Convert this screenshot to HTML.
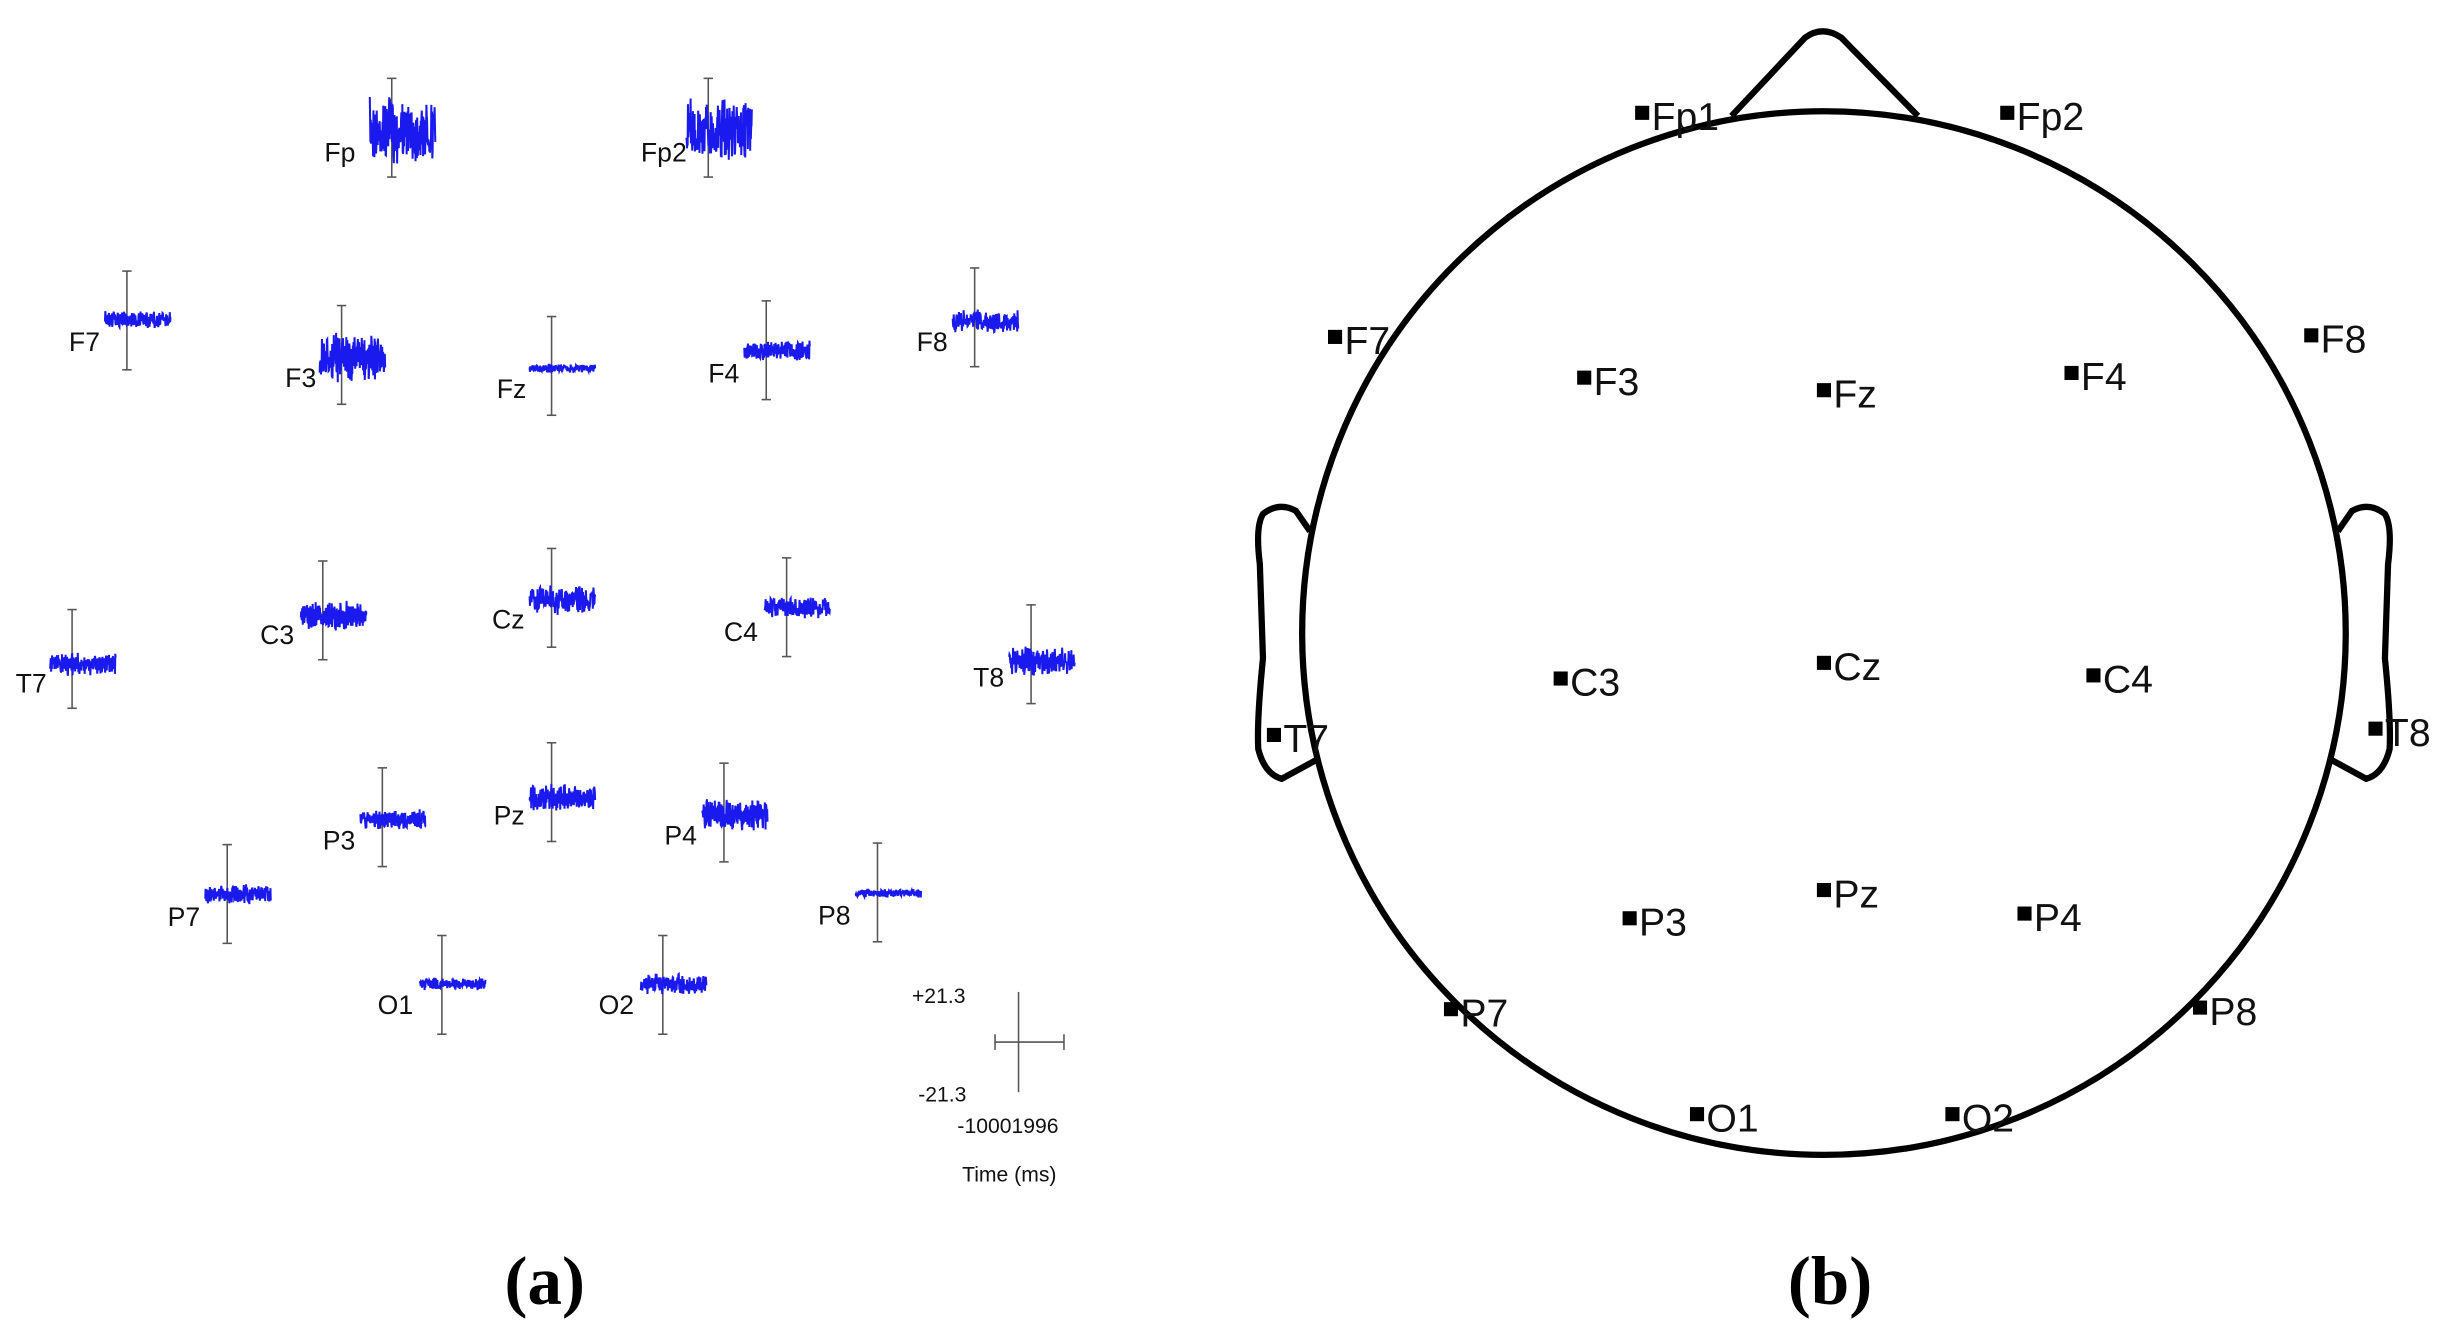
<!DOCTYPE html>
<html><head><meta charset="utf-8"><style>
html,body{margin:0;padding:0;background:#fff;width:2457px;height:1342px;overflow:hidden}
svg{display:block}
.l{font-family:"Liberation Sans",sans-serif;font-size:17px;fill:#111}
.s{font-family:"Liberation Sans",sans-serif;font-size:13.5px;fill:#111}
.h{font-family:"Liberation Sans",sans-serif;font-size:25px;fill:#111}
.cap{font-family:"Liberation Serif",serif;font-size:44px;font-weight:bold;fill:#000}
</style></head><body>
<svg id="s" width="2457" height="1342" viewBox="0 0 1568 856.4" preserveAspectRatio="none" xmlns="http://www.w3.org/2000/svg">
<g id="a"></g>
<g id="lab">
<text class="l" x="207" y="103">Fp</text>
<text class="l" x="409" y="103">Fp2</text>
<text class="l" x="44" y="224">F7</text>
<text class="l" x="182" y="247">F3</text>
<text class="l" x="317" y="254">Fz</text>
<text class="l" x="452" y="244">F4</text>
<text class="l" x="585" y="224">F8</text>
<text class="l" x="10" y="442">T7</text>
<text class="l" x="166" y="411">C3</text>
<text class="l" x="314" y="401">Cz</text>
<text class="l" x="462" y="409">C4</text>
<text class="l" x="621" y="438">T8</text>
<text class="l" x="206" y="542">P3</text>
<text class="l" x="315" y="526">Pz</text>
<text class="l" x="424" y="539">P4</text>
<text class="l" x="107" y="591">P7</text>
<text class="l" x="522" y="590">P8</text>
<text class="l" x="241" y="647">O1</text>
<text class="l" x="382" y="647">O2</text>
<text class="s" x="582" y="640">+21.3</text>
<text class="s" x="586" y="703">-21.3</text>
<text class="s" x="611" y="723">-10001996</text>
<text class="s" x="614" y="754">Time (ms)</text>
</g>
<g stroke="#555" stroke-width="1" fill="none">
<line x1="650" y1="633" x2="650" y2="697"/><line x1="635" y1="665" x2="679" y2="665"/>
<line x1="635" y1="660" x2="635" y2="670"/><line x1="679" y1="660" x2="679" y2="670"/>
</g>
<text class="cap" x="322" y="832">(a)</text>
<text class="cap" x="1141" y="832">(b)</text>
<g fill="none" stroke="#000" stroke-width="4">
<circle cx="1164" cy="404" r="333"/>
<path d="M1105,74 L1152,24 Q1163,16 1175,24 L1224,74"/>
<path d="M836,339 L827,326 Q816,320 806,328 Q801,336 804,360 L806,420 Q802,460 803,478 Q807,494 818,497 L840,485"/>
<path d="M1492,339 L1501,326 Q1512,320 1522,328 Q1527,336 1524,360 L1522,420 Q1526,460 1525,478 Q1521,494 1510,497 L1488,485"/>
</g>
<g id="b"></g>
</svg>
<script>
var a=document.getElementById('a'),b=document.getElementById('b'),NS='http://www.w3.org/2000/svg';
function el(p,t,o){var e=document.createElementNS(NS,t);for(var k in o)e.setAttribute(k,o[k]);p.appendChild(e);return e;}
var seed=7;function r(){seed=(seed*16807)%2147483647;return seed/2147483647;}
var T=[[250,50,83,22],[452,50,83,22],[81,173,204,6],[218,195,228,16],[352,202,235,3],[489,192,224,7],[622,171,205,8],[46,389,424,8],[206,358,393,10],[352,350,383,10],[502,356,388,7],[658,386,422,10],[244,490,523,7],[352,474,509,10],[462,487,520,11],[145,539,571,7],[560,538,570,3],[282,597,628,4],[423,597,628,7]];
T.forEach(function(t){var x=t[0];
el(a,'line',{x1:x,y1:t[1],x2:x,y2:t[1]+63,stroke:'#555','stroke-width':1});
el(a,'line',{x1:x-3,y1:t[1],x2:x+3,y2:t[1],stroke:'#555','stroke-width':1});
el(a,'line',{x1:x-3,y1:t[1]+63,x2:x+3,y2:t[1]+63,stroke:'#555','stroke-width':1});
var d='',n=200;for(var i=0;i<n;i++){var xx=x-14+42*i/n;var yy=t[2]+(r()-0.5)*2*t[3]*(0.5+0.5*r());d+=(i?'L':'M')+xx.toFixed(2)+','+yy.toFixed(2);}
el(a,'path',{d:d,fill:'none',stroke:'#1a1aee','stroke-width':1.3});});
var E=[['Fp1',1048,72],['Fp2',1281,72],['F7',852,215],['F8',1475,214],['F3',1011,241],['Fz',1164,249],['F4',1322,238],['T7',813,469],['T8',1516,465],['C3',996,433],['Cz',1164,423],['C4',1336,431],['P3',1040,586],['Pz',1164,568],['P4',1292,583],['P7',926,644],['P8',1404,643],['O1',1083,711],['O2',1246,711]];
E.forEach(function(e){el(b,'rect',{x:e[1]-4.5,y:e[2]-4.5,width:9,height:9,fill:'#000'});
var t=el(b,'text',{x:e[1]+6,y:e[2]+11,'class':'h'});t.textContent=e[0];});
</script>
</body></html>
